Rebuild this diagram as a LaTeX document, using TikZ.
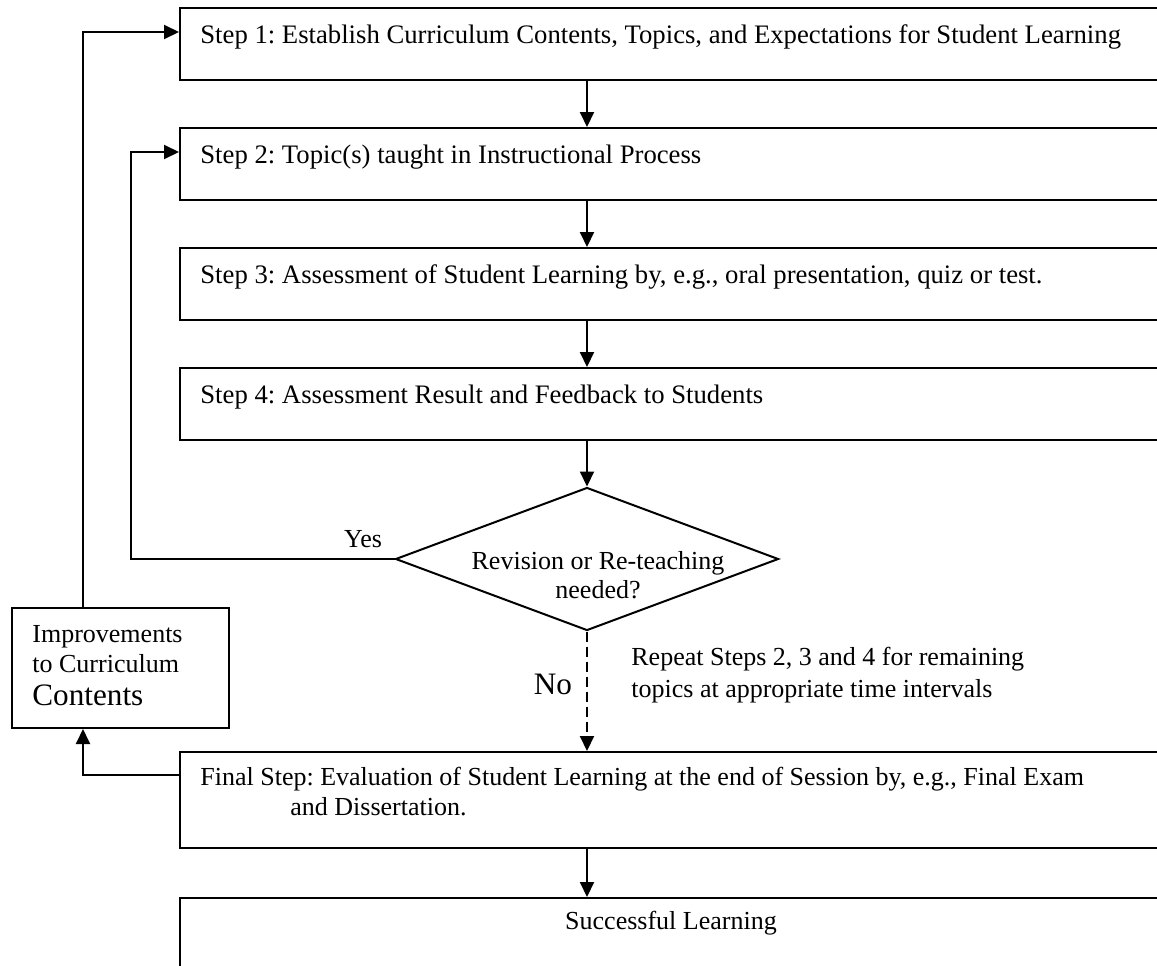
\documentclass[tikz,border=0pt]{standalone}
\usepackage{fontspec}
\setmainfont{Liberation Serif}
\usetikzlibrary{arrows.meta,shapes.geometric}
\frenchspacing
\begin{document}
\begin{tikzpicture}[x=0.5pt,y=-0.5pt,
  box/.style={draw,line width=1pt,rectangle,inner sep=0pt,anchor=north west},
  lbl/.style={anchor=base west,inner sep=0pt,font=\fontsize{13}{15}\selectfont},
  slbl/.style={anchor=base west,inner sep=0pt,font=\fontsize{13.35}{15}\selectfont},
  clbl/.style={anchor=base,inner sep=0pt,font=\fontsize{13}{15}\selectfont},
  big/.style={font=\fontsize{15.6}{18}\selectfont},
  arr/.style={line width=1pt,-{Triangle[length=7.5pt,width=7pt]}}]
\useasboundingbox (0,0) rectangle (1157,965);
\clip (0,0) rectangle (1157,965);
% boxes
\node[box,minimum width=495.5pt,minimum height=36pt] (s1) at (179,7) {};
\node[box,minimum width=495.5pt,minimum height=36pt] (s2) at (179,127) {};
\node[box,minimum width=495.5pt,minimum height=36pt] (s3) at (179,247) {};
\node[box,minimum width=495.5pt,minimum height=36pt] (s4) at (179,367) {};
\node[draw,diamond,line width=1pt,inner sep=0pt,minimum width=191.5pt,minimum height=71.5pt] (d) at (587,559) {};
\node[box,minimum width=108.5pt,minimum height=60pt] (imp) at (11,607) {};
\node[box,minimum width=495.5pt,minimum height=48pt] (fin) at (179,751) {};
\node[box,minimum width=495.5pt,minimum height=60pt] (succ) at (179,897) {};
% texts
\node[slbl] (t1) at (200,43) {Step 1: Establish Curriculum Contents, Topics, and Expectations for Student Learning};
\node[slbl] (t2) at (200,163) {Step 2: Topic(s) taught in Instructional Process};
\node[slbl] (t3) at (200,283) {Step 3: Assessment of Student Learning by, e.g., oral presentation, quiz or test.};
\node[slbl] (t4) at (200,403) {Step 4: Assessment Result and Feedback to Students};
\node[clbl] (dt1) at (598,569) {Revision or Re-teaching};
\node[clbl] (dt2) at (598,598) {needed?};
\node[clbl] (yes) at (363,547) {Yes};
\node[clbl,big] (no) at (553,694) {No};
\node[lbl] (rp1) at (631,665) {Repeat Steps 2, 3 and 4 for remaining};
\node[lbl] (rp2) at (631,697) {topics at appropriate time intervals};
\node[lbl] (im1) at (32,642) {Improvements};
\node[lbl] (im2) at (32,672) {to Curriculum};
\node[lbl,big] (im3) at (32,705) {Contents};
\node[lbl] (f1) at (200,785) {Final Step: Evaluation of Student Learning at the end of Session by, e.g., Final Exam};
\node[lbl] (f2) at (290,815) {and Dissertation.};
\node[clbl] (sl) at (671,929) {Successful Learning};
% connectors
\draw[arr] (d.north |- s1.south) -- (d.north |- s2.north);
\draw[arr] (d.north |- s2.south) -- (d.north |- s3.north);
\draw[arr] (d.north |- s3.south) -- (d.north |- s4.north);
\draw[arr] (d.north |- s4.south) -- (d.north);
\draw[arr,dash pattern=on 5pt off 2.5pt] (d.south) -- (d.south |- fin.north);
\draw[arr] (d.south |- fin.south) -- (d.south |- succ.north);
\draw[arr] (d.west) -- (131,559) -- (131,152) -- (s2.west |- 0,152);
\draw[arr] (83,0 |- imp.north) -- (83,32) -- (s1.west |- 0,32);
\draw[arr] (fin.west |- 0,775) -| (83,0 |- imp.south);
\end{tikzpicture}
\end{document}
